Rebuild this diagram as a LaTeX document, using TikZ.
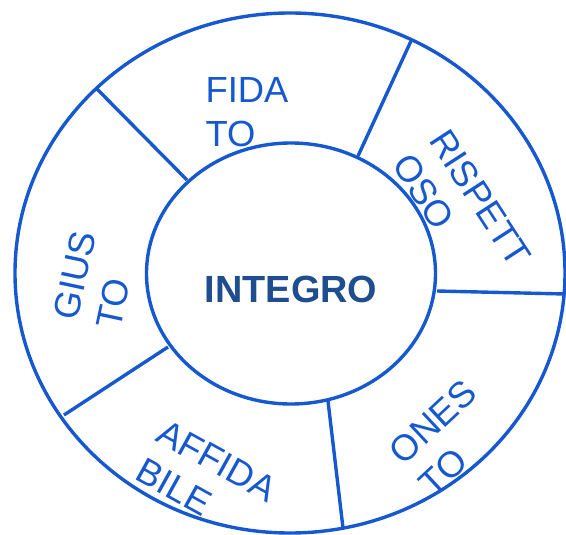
\documentclass[tikz,border=0pt]{standalone}
\usepackage{fontspec}
\setmainfont{Liberation Sans}
\usetikzlibrary{shapes.geometric}
\definecolor{ringblue}{HTML}{1558CF}
\definecolor{coreblue}{HTML}{1F4E8F}
\tikzset{
  ringline/.style={draw=ringblue, line width=3.4bp},
  oval/.style={ellipse, ringline, inner sep=0pt},
  seglabel/.style={text=ringblue, align=left, inner sep=0pt, font=\fontsize{36.5}{44}\selectfont},
  corelabel/.style={text=coreblue, inner sep=0pt, font=\fontsize{38}{44}\selectfont\bfseries}
}
\begin{document}
\begin{tikzpicture}[x=1bp, y=-1bp]
\useasboundingbox (0,0) rectangle (566,535);
\node[oval, minimum width=550bp, minimum height=520bp] (ring) at (290,273) {};
\node[oval, minimum width=289bp, minimum height=261bp] (core) at (291,273.5) {};
\node[corelabel] (integro) at (291,289) {INTEGRO};
% divider end points
\coordinate (o1) at (97,89);   \coordinate (i1) at (187,180);
\coordinate (o2) at (411,41);  \coordinate (i2) at (358,156);
\coordinate (o3) at (565,294); \coordinate (i3) at (437,291);
\coordinate (o4) at (343,528); \coordinate (i4) at (328,401);
\coordinate (o5) at (64,415);  \coordinate (i5) at (168,347);
\draw[ringline] (i1) -- (o1);
\draw[ringline] (i2) -- (o2);
\draw[ringline] (i3) -- (o3);
\draw[ringline] (i4) -- (o4);
\draw[ringline] (i5) -- (o5);
% segment labels
\node[seglabel] (fidato) at (247,112) {FIDA\\TO};
\node[seglabel, rotate=-57] (rispettoso) at (462,210) {RISPETT\\OSO};
\node[seglabel, rotate=43] (onesto) at (448,438) {ONES\\TO};
\node[seglabel, rotate=-29] (affidabile) at (206.5,480) {AFFIDA\\BILE};
\node[seglabel, rotate=78] (giusto) at (96,280) {GIUS\\TO};
\end{tikzpicture}
\end{document}
